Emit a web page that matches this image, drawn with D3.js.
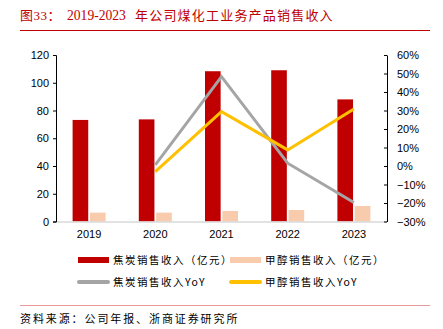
<!DOCTYPE html>
<html><head><meta charset="utf-8">
<script src="https://cdn.jsdelivr.net/npm/d3@7/dist/d3.min.js"></script>
<style>body{margin:0;background:#fff}svg{display:block}</style>
</head><body>
<script>
const years = ["2019","2020","2021","2022","2023"];
const cokeRevenue = [73.2, 73.6, 108.3, 109.0, 88.0];
const methanolRevenue = [6.4, 6.4, 7.6, 8.3, 11.2];
const cokeYoY = [null, 0.6, 48.3, 1.5, -19.7];
const methanolYoY = [null, -3.0, 29.4, 8.7, 30.8];
const leftTicks = [0,20,40,60,80,100,120];
const rightTicks = [-30,-20,-10,0,10,20,30,40,50,60];
const titleParts = ["图33：", "2019-2023", "年公司煤化工业务产品销售收入"];
const source = "资料来源：公司年报、浙商证券研究所";
const legendItems = [
  {name:"焦炭销售收入（亿元）", type:"bar", color:"#c00000"},
  {name:"甲醇销售收入（亿元）", type:"bar", color:"#f8cbad"},
  {name:"焦炭销售收入YoY", type:"line", color:"#a5a5a5"},
  {name:"甲醇销售收入YoY", type:"line", color:"#ffc000"}
];

const W=443,H=329;
const svg=d3.select("body").append("svg").attr("width",W).attr("height",H);
const cjk="'Noto Sans CJK SC', sans-serif";
const serif="'Liberation Serif','Noto Sans CJK SC',serif";

// title
const tt=svg.append("g").attr("fill","#c00000").style("font-family",serif).style("font-size","13px");
tt.append("text").attr("x",20).attr("y",20).style("letter-spacing","0.5px").text(titleParts[0]);
tt.append("text").attr("x",67).attr("y",20).style("font-size","13.6px").text(titleParts[1]);
tt.append("text").attr("x",135).attr("y",20).style("letter-spacing","1.2px").text(titleParts[2]);
svg.append("line").attr("x1",20).attr("x2",430).attr("y1",30.5).attr("y2",30.5)
  .attr("stroke","#c00000").attr("stroke-width",1);

const x0=56,x1=387,yTop=55,yBot=221.5;
const x=d3.scaleBand().domain(years).range([x0,x1]).padding(0);
const bw=x.bandwidth();
const xs=d3.scaleBand().domain(["coke","meth"]).range([bw/2-16.5,bw/2+16.5]).paddingInner(0.1);
const yL=d3.scaleLinear().domain([0,120]).range([yBot,yTop]);
const yR=d3.scaleLinear().domain([-30,60]).range([yBot,yTop]);

// bars
const g=svg.append("g");
g.selectAll(".coke").data(years).enter().append("rect")
  .attr("x",(d)=>x(d)+xs("coke")).attr("width",xs.bandwidth())
  .attr("y",(d,i)=>yL(cokeRevenue[i])).attr("height",(d,i)=>yL(0)-yL(cokeRevenue[i]))
  .attr("fill","#c00000");
g.selectAll(".meth").data(years).enter().append("rect")
  .attr("x",(d)=>x(d)+xs("meth")).attr("width",xs.bandwidth())
  .attr("y",(d,i)=>yL(methanolRevenue[i])).attr("height",(d,i)=>yL(0)-yL(methanolRevenue[i]))
  .attr("fill","#f8cbad");

// bottom axis line
svg.append("line").attr("x1",x0).attr("x2",x1).attr("y1",yBot+0.5).attr("y2",yBot+0.5)
  .attr("stroke","#d9d9d9").attr("stroke-width",1.5);

// lines
const line=d3.line().defined(d=>d.v!=null).x(d=>x(d.y)+bw/2).y(d=>yR(d.v));
[[cokeYoY,"#a5a5a5"],[methanolYoY,"#ffc000"]].forEach(([arr,c])=>{
  svg.append("path").datum(years.map((y,i)=>({y,v:arr[i]})))
    .attr("d",line).attr("fill","none").attr("stroke",c).attr("stroke-width",3);
});

// axes
const tickFont=g=>g.selectAll("text").style("font-family","'Liberation Sans',Arial,sans-serif").style("font-size","11px").attr("fill","#000");
const la=svg.append("g").attr("transform",`translate(${x0},0)`)
  .call(d3.axisLeft(yL).tickValues(leftTicks).tickSize(3).tickPadding(4));
la.call(tickFont); la.select(".domain").attr("stroke","#000");
la.selectAll(".tick line").attr("stroke","#000");

const ra=svg.append("g").attr("transform",`translate(${x1},0)`)
  .call(d3.axisRight(yR).tickValues(rightTicks).tickSize(0).tickPadding(10).tickFormat(d=>(d<0?"\u2212"+(-d):d)+"%"));
ra.call(tickFont); ra.select(".domain").attr("stroke","#000");
ra.selectAll(".tick").append("line").attr("x1",-3).attr("x2",0).attr("stroke","#000");

const xa=svg.append("g").attr("transform",`translate(0,${yBot})`)
  .call(d3.axisBottom(x).tickSize(0).tickPadding(9));
xa.call(tickFont); xa.select(".domain").remove();

// legend
const lx=[78,230], ly=[260,282];
legendItems.forEach((it,i)=>{
  const cx=lx[i%2], cy=ly[Math.floor(i/2)];
  if(it.type==="bar"){
    svg.append("rect").attr("x",cx).attr("y",cy-3).attr("width",31).attr("height",6).attr("fill",it.color);
  } else {
    svg.append("line").attr("x1",cx+1).attr("x2",cx+30).attr("y1",cy).attr("y2",cy)
      .attr("stroke",it.color).attr("stroke-width",4).attr("stroke-linecap","round");
  }
  svg.append("text").attr("x",cx+35).attr("y",cy+4).text(it.name)
    .style("font-family",cjk).style("font-size","10.5px").style("letter-spacing","1.5px").attr("fill","#000");
});

// footer
svg.append("line").attr("x1",20).attr("x2",430).attr("y1",305.5).attr("y2",305.5)
  .attr("stroke","#e8999a").attr("stroke-width",1.2);
svg.append("text").attr("x",20).attr("y",323).text(source)
  .style("font-family",cjk).style("font-size","11px").style("letter-spacing","1.9px").attr("fill","#000");
</script>
</body></html>
